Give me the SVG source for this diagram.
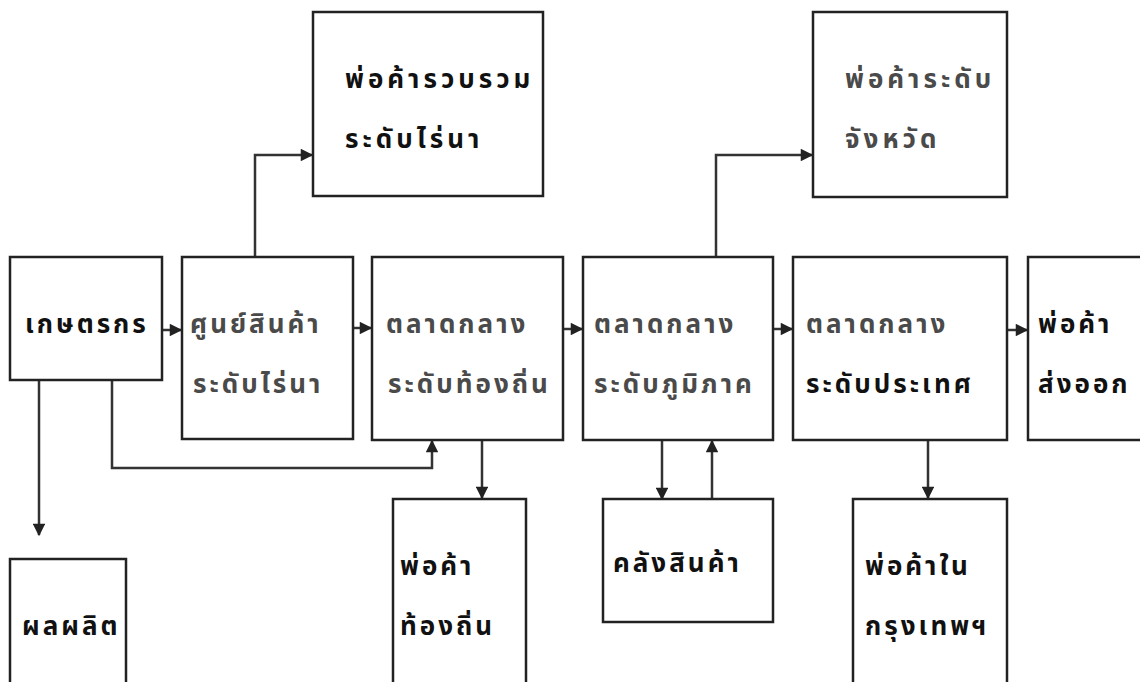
<svg xmlns="http://www.w3.org/2000/svg" width="1140" height="682" viewBox="0 0 1140 682">
<style>
.box{fill:#fff;stroke:#222;stroke-width:2.5}
.t{font-family:"Noto Sans Thai","Noto Sans","Liberation Sans",sans-serif;font-size:26px;font-weight:bold;fill:#111;letter-spacing:3px}
.w{letter-spacing:4px}
.g{fill:#4a4a4a}
.c{fill:none;stroke:#333;stroke-width:2.5}
</style>
<defs>
<marker id="ah" viewBox="0 0 10 10" refX="9" refY="5" markerWidth="5.5" markerHeight="5" orient="auto" markerUnits="strokeWidth">
<path d="M0,0 L10,5 L0,10 z" fill="#222"/>
</marker>
</defs>
<rect width="1140" height="682" fill="#fff"/>
<g id="connectors">
<path class="c" d="M162,330 H181" marker-end="url(#ah)"/>
<path class="c" d="M353,328 H371" marker-end="url(#ah)"/>
<path class="c" d="M563,329 H582" marker-end="url(#ah)"/>
<path class="c" d="M773,329 H792" marker-end="url(#ah)"/>
<path class="c" d="M1007,330 H1027" marker-end="url(#ah)"/>
<path class="c" d="M255,257 V155 H312" marker-end="url(#ah)"/>
<path class="c" d="M716,257 V155 H812" marker-end="url(#ah)"/>
<path class="c" d="M39,380 V535" marker-end="url(#ah)"/>
<path class="c" d="M112,380 V468 H432 V441" marker-end="url(#ah)"/>
<path class="c" d="M482,440 V498" marker-end="url(#ah)"/>
<path class="c" d="M662,440 V499" marker-end="url(#ah)"/>
<path class="c" d="M712,499 V441" marker-end="url(#ah)"/>
<path class="c" d="M928,440 V498" marker-end="url(#ah)"/>
</g>
<g id="n-farmer"><rect class="box" x="10" y="257" width="152" height="123"/><text class="t" x="25" y="333">เกษตรกร</text></g>
<g id="n-farm-center"><rect class="box" x="182" y="257" width="171" height="182"/><text class="t g" x="190" y="333">ศูนย์สินค้า</text><text class="t g" x="193" y="393">ระดับไร่นา</text></g>
<g id="n-local-market"><rect class="box" x="372" y="257" width="191" height="183"/><text class="t g" x="386" y="333">ตลาดกลาง</text><text class="t g" x="388" y="393">ระดับท้องถิ่น</text></g>
<g id="n-regional-market"><rect class="box" x="583" y="257" width="190" height="183"/><text class="t g" x="594" y="333">ตลาดกลาง</text><text class="t g" x="594" y="393">ระดับภูมิภาค</text></g>
<g id="n-national-market"><rect class="box" x="793" y="257" width="214" height="183"/><text class="t g" x="806" y="333">ตลาดกลาง</text><text class="t" x="806" y="393">ระดับประเทศ</text></g>
<g id="n-exporter"><rect class="box" x="1028" y="257" width="120" height="183"/><text class="t" x="1038" y="333">พ่อค้า</text><text class="t" x="1038" y="393">ส่งออก</text></g>
<g id="n-farm-collector"><rect class="box" x="313" y="12" width="230" height="184"/><text class="t w" x="345" y="88">พ่อค้ารวบรวม</text><text class="t w" x="345" y="148">ระดับไร่นา</text></g>
<g id="n-provincial"><rect class="box" x="813" y="12" width="194" height="185"/><text class="t g w" x="845" y="88">พ่อค้าระดับ</text><text class="t g w" x="845" y="148">จังหวัด</text></g>
<g id="n-produce"><rect class="box" x="10" y="559" width="116" height="130"/><text class="t" x="22" y="635">ผลผลิต</text></g>
<g id="n-local-trader"><rect class="box" x="393" y="499" width="133" height="190"/><text class="t" x="400" y="575">พ่อค้า</text><text class="t" x="400" y="635">ท้องถิ่น</text></g>
<g id="n-warehouse"><rect class="box" x="603" y="499" width="170" height="123"/><text class="t" x="613" y="572">คลังสินค้า</text></g>
<g id="n-bangkok"><rect class="box" x="853" y="499" width="154" height="190"/><text class="t" x="865" y="575">พ่อค้าใน</text><text class="t" x="865" y="635">กรุงเทพฯ</text></g>
</svg>
